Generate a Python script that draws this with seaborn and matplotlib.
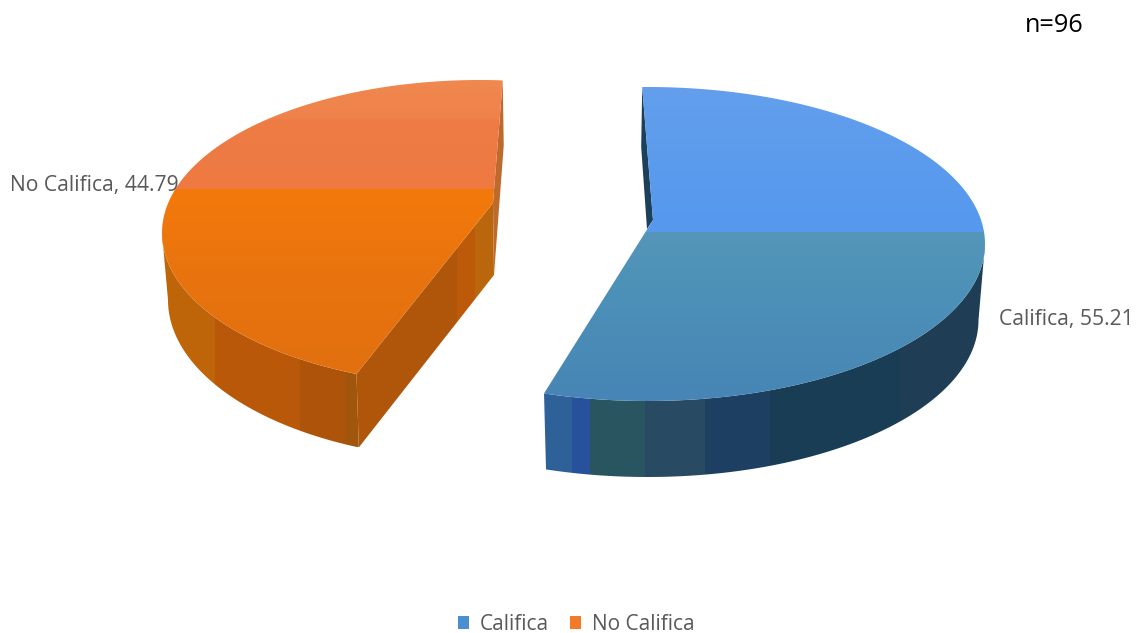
import numpy as np
import matplotlib
matplotlib.use("Agg")
import matplotlib.pyplot as plt
from matplotlib.colors import to_rgb
from matplotlib.patches import Polygon, Patch
import seaborn as sns

categories = ["Califica", "No Califica"]
values = [55.21, 44.79]
sample_label = "n=96"

sns.set_theme(style="white")
plt.rcParams["font.family"] = ["Open Sans", "DejaVu Sans"]

W, H = 1139, 633
fig = plt.figure(figsize=(W / 100, H / 100), dpi=100)
ax = fig.add_axes([0, 0, 1, 1])


def arc(cx, cy, a, b, t0, t1, n=240):
    t = np.radians(np.linspace(t0, t1, n))
    return np.column_stack([cx + a * np.cos(t), cy - b * np.sin(t)])


def vfill(poly, stops):
    """Vertical colour ramp inside a polygon; stops = (y, colour)."""
    y0, y1 = poly[:, 1].min(), poly[:, 1].max()
    x0, x1 = poly[:, 0].min(), poly[:, 0].max()
    ys = np.arange(np.floor(y0), np.ceil(y1) + 1)
    sy = [s[0] for s in stops]
    rgb = np.array([to_rgb(s[1]) for s in stops])
    img = np.stack([np.interp(ys, sy, rgb[:, i]) for i in range(3)], axis=1)[:, None, :]
    im = ax.imshow(img, extent=(x0 - 1, x1 + 1, ys[-1] + .5, ys[0] - .5), aspect="auto",
                   interpolation="nearest", zorder=3)
    im.set_clip_path(Polygon(poly, closed=True, transform=ax.transData))


def hbands(poly, edges, colors, z=2):
    """Vertical stripes inside a polygon."""
    y0, y1 = poly[:, 1].min(), poly[:, 1].max()
    xs = np.arange(np.floor(poly[:, 0].min()), np.ceil(poly[:, 0].max()) + 1)
    rgb = np.array([to_rgb(c) for c in colors])
    idx = np.clip(np.searchsorted(edges, xs, side="right") - 1, 0, len(colors) - 1)
    img = rgb[idx][None, :, :]
    im = ax.imshow(img, extent=(xs[0] - .5, xs[-1] + .5, y1, y0), aspect="auto",
                   interpolation="nearest", zorder=z)
    im.set_clip_path(Polygon(poly, closed=True, transform=ax.transData))


span = [v / sum(values) * 360 for v in values]

# ---------- Califica (right slice) ----------
R = dict(cx=647.5, cy=244, a=337.5, b=157)
R_low = dict(cx=647.5, cy=320, a=331, b=157)
r0 = 90.9
r1 = r0 - span[0]
r_apex = np.array([653, 220])
rim = arc(R["cx"], R["cy"], R["a"], R["b"], r0, r1)
wall_top = arc(R["cx"], R["cy"], R["a"], R["b"], 0, r1)
wall_low = arc(R_low["cx"], R_low["cy"], R_low["a"], R_low["b"], 0, r1)
wall = np.vstack([wall_top, wall_low[::-1]])
hbands(wall, [540, 572, 590, 645, 705, 770, 900],
       ["#2F6199", "#28519C", "#295560", "#284B63", "#1C3F62", "#1A3D56", "#1F3E55"])
sliver = np.array([rim[0], rim[0] + [-1, 60], r_apex + [-6, 9], r_apex])
ax.add_patch(Polygon(sliver, closed=True, fc="#1C3F5A", ec="none", zorder=2))
top = np.vstack([rim, r_apex])
vfill(top, [(87, "#639FEC"), (232.5, "#5598EE"), (233, "#5596B8"),
            (280, "#4E92B8"), (400, "#4685B5")])

# ---------- No Califica (left slice) ----------
L = dict(cx=480, cy=233, a=318, b=153)
L_low = dict(cx=480, cy=300, a=312, b=160)
l0 = 85.9
l1 = l0 + span[1]
l_apex = np.array([493, 203])
rim = arc(L["cx"], L["cy"], L["a"], L["b"], l0, l1)
wall_top = arc(L["cx"], L["cy"], L["a"], L["b"], 180, l1)
wall_low = arc(L_low["cx"], L_low["cy"], L_low["a"], L_low["b"], 180, l1)
wall = np.vstack([wall_top, wall_low[::-1]])
hbands(wall, [160, 215, 300, 345],
       ["#BF6509", "#B85808", "#AE530A", "#A0560C"])
face = np.array([l_apex, l_apex + [1, 72], wall_low[-1], wall_top[-1]])
hbands(face, [350, 457, 475], ["#B0560A", "#BC5A0A", "#BA660C"])
sliver = np.array([rim[0], rim[0] + [1, 65], l_apex + [1, 72], l_apex])
ax.add_patch(Polygon(sliver, closed=True, fc="#BE6A2C", ec="none", zorder=2))
top = np.vstack([rim, l_apex])
vfill(top, [(80, "#F0884F"), (118, "#EF824B"), (122, "#EE7A45"), (189.5, "#EF7A42"),
            (190, "#F4790B"), (270, "#E9740E"), (373, "#E2700F")])

# ---------- Text ----------
grey = "#595959"
ax.text(10, 185.5, f"{categories[1]}, {values[1]:.2f}", color=grey, fontsize=15.2,
        va="center", ha="left", zorder=5)
ax.text(999, 319.5, f"{categories[0]}, {values[0]:.2f}", color=grey, fontsize=15.2,
        va="center", ha="left", zorder=5)
ax.text(1025, 26, sample_label, color="black", fontsize=18.2, va="center", ha="left", zorder=5)

handles = [Patch(fc="#4A8FD0", ec="none"), Patch(fc="#F27A28", ec="none")]
leg = ax.legend(handles, categories, loc="center", bbox_to_anchor=(576, 624.5),
                bbox_transform=ax.transData, ncol=2, frameon=False, fontsize=15,
                labelcolor=grey, handlelength=0.55, handleheight=0.55,
                handletextpad=0.5, columnspacing=1.0)

ax.set_xlim(0, W)
ax.set_ylim(H, 0)
ax.set_axis_off()
fig.savefig("out.png", dpi=100, facecolor="white")
